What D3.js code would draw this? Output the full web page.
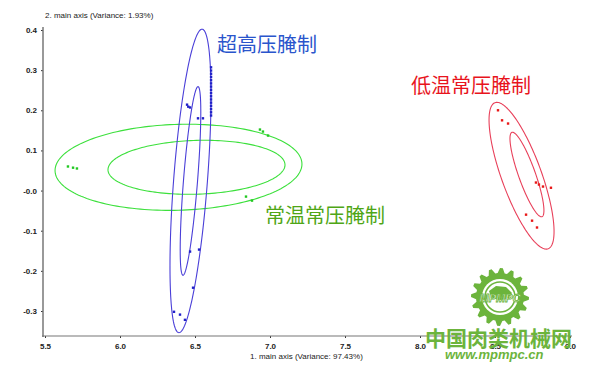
<!DOCTYPE html>
<html>
<head>
<meta charset="utf-8">
<script src="https://d3js.org/d3.v7.min.js"></script>
<style>
    body { margin: 0; background: #fff; }
    svg { display: block; }
    text { font-family: "Liberation Sans", Arial, sans-serif; }
    .cjk { font-family: "Noto Sans CJK SC", sans-serif; }
</style>
</head>
<body>
<script>
    var W = 600, H = 374;

    // tick values + labels
    var xTicks = [5.5, 6.0, 6.5, 7.0, 7.5, 8.0, 8.5, 9.0];
    var xTickLabels = ["5.5", "6.0", "6.5", "7.0", "7.5", "8.0", "8.5", "9.0"];
    var yTicks = [0.4, 0.3, 0.2, 0.1, 0, -0.1, -0.2, -0.3];
    var yTickLabels = ["0.4", "0.3", "0.2", "0.1", "-0.0", "-0.1", "-0.2", "-0.3"];

    var groups = ["超高压腌制", "常温常压腌制", "低温常压腌制"];

    // samples (1. main axis, 2. main axis)
    var bluePoints = [[6.447, 0.214], [6.467, 0.207], [6.455, 0.209], [6.52, 0.180], [6.553, 0.180],
        [6.607, 0.307], [6.607, 0.299], [6.607, 0.291], [6.607, 0.283], [6.607, 0.275],
        [6.607, 0.267], [6.607, 0.259], [6.607, 0.251], [6.607, 0.243], [6.607, 0.235],
        [6.607, 0.227], [6.607, 0.219], [6.607, 0.211], [6.607, 0.203], [6.607, 0.195], [6.607, 0.187],
        [6.36, -0.302], [6.40, -0.309], [6.433, -0.322], [6.487, -0.242], [6.527, -0.147], [6.467, -0.152]];
    var greenPoints = [[5.653, 0.060], [5.687, 0.057], [5.713, 0.055], [6.933, 0.152], [6.953, 0.147],
        [6.987, 0.137], [6.84, -0.015], [6.88, -0.025]];
    var redPoints = [[8.52, 0.200], [8.547, 0.175], [8.587, 0.167], [8.773, 0.020], [8.793, 0.015],
        [8.82, 0.010], [8.873, 0.007], [8.707, -0.060], [8.747, -0.075], [8.78, -0.092]];

    // confidence ellipses: centre, conjugate half-axis vectors (data units)
    var blueEllipses = [
        {c: [6.47, 0.024], u: [0.077, 0.378], w: [0.113, 0]},
        {c: [6.47, 0.024], u: [0.05, 0.235], w: [0.047, 0]}
    ];
    var greenEllipses = [
        {c: [6.39, 0.058], u: [0.823, 0.008], w: [0, 0.107]},
        {c: [6.51, 0.058], u: [0.59, 0.006], w: [0, 0.067]}
    ];
    var redEllipses = [
        {c: [8.677, 0.037], u: [0.177, -0.182], w: [0.125, 0.017]},
        {c: [8.713, 0.040], u: [0.1, -0.105], w: [0.053, 0.007]}
    ];

    var blueLine = "#4a3fd8", greenLine = "#3ce03c", redLine = "#e8405a";

    var svg = d3.select("body").append("svg")
        .attr("width", W)
        .attr("height", H);

    var x = d3.scaleLinear().domain([5.5, 9.0]).range([45, 570]);
    var y = d3.scaleLinear().domain([-0.3, 0.4]).range([311, 30]);

    // axes
    var yAxis = d3.axisLeft(y).tickValues(yTicks).tickSize(2).tickPadding(4)
        .tickFormat(function(d, i) { return yTickLabels[i]; });
    var xAxis = d3.axisBottom(x).tickValues(xTicks).tickSize(2).tickPadding(5)
        .tickFormat(function(d, i) { return xTickLabels[i]; });

    var gy = svg.append("g").attr("transform", "translate(43,0)").call(yAxis);
    var gx = svg.append("g").attr("transform", "translate(0,336)").call(xAxis);
    gy.select(".domain").remove();
    gx.select(".domain").remove();
    svg.append("line").attr("x1", 43).attr("x2", 43).attr("y1", 27).attr("y2", 337)
        .attr("stroke", "#777").attr("stroke-width", 1.5);
    svg.append("line").attr("x1", 42).attr("x2", 572).attr("y1", 336).attr("y2", 336)
        .attr("stroke", "#777").attr("stroke-width", 1.2);
    svg.selectAll(".tick line").attr("stroke", "#333");
    svg.selectAll(".tick text").attr("fill", "#222").style("font-size", "8px")
        .style("font-weight", "bold").style("font-family", "Liberation Sans, Arial, sans-serif");

    svg.append("text").attr("x", 45).attr("y", 18)
        .style("font-size", "8px").attr("fill", "#222")
        .text("2. main axis (Variance: 1.93%)");
    svg.append("text").attr("x", 250).attr("y", 359)
        .style("font-size", "8px").attr("fill", "#222")
        .text("1. main axis (Variance: 97.43%)");

    // ellipses
    var ts = d3.range(0, 2 * Math.PI, Math.PI / 90);
    var line = d3.line()
        .x(function(p) { return x(p[0]); })
        .y(function(p) { return y(p[1]); })
        .curve(d3.curveLinearClosed);

    function ellipsePts(e) {
        return ts.map(function(t) {
            return [e.c[0] + e.u[0] * Math.cos(t) + e.w[0] * Math.sin(t),
                    e.c[1] + e.u[1] * Math.cos(t) + e.w[1] * Math.sin(t)];
        });
    }

    function drawGroup(ells, pts, lineColor, ptColor) {
        svg.append("g").selectAll("path")
            .data(ells)
            .enter().append("path")
            .attr("d", function(e) { return line(ellipsePts(e)); })
            .attr("fill", "none")
            .attr("stroke", lineColor)
            .attr("stroke-width", 1.1);
        svg.append("g").selectAll("rect")
            .data(pts)
            .enter().append("rect")
            .attr("x", function(d) { return x(d[0]) - 1.2; })
            .attr("y", function(d) { return y(d[1]) - 1.2; })
            .attr("width", 2.4)
            .attr("height", 2.4)
            .attr("fill", ptColor);
    }

    drawGroup(greenEllipses, greenPoints, greenLine, "#22c822");
    drawGroup(blueEllipses, bluePoints, blueLine, "#2020c8");
    drawGroup(redEllipses, redPoints, redLine, "#e81818");

    // group labels
    svg.append("text").attr("class", "cjk").attr("x", 217).attr("y", 52)
        .style("font-size", "20px").attr("fill", "#2a55cc").text(groups[0]);
    svg.append("text").attr("class", "cjk").attr("x", 265).attr("y", 223)
        .style("font-size", "20px").attr("fill", "#4fa616").text(groups[1]);
    svg.append("text").attr("class", "cjk").attr("x", 411).attr("y", 93)
        .style("font-size", "20px").attr("fill", "#e8141c").text(groups[2]);

    // watermark
    var wm = "#6cb43c";
    var logo = svg.append("g").attr("transform", "translate(500,297)");
    var gearPts = d3.range(0, 64).map(function(i) {
        var a = i / 64 * 2 * Math.PI;
        var r = (Math.floor(i / 2) % 2 === 0) ? 29 : 24;
        return [r * Math.cos(a), r * Math.sin(a)];
    });
    logo.append("path").attr("d", d3.line().curve(d3.curveLinearClosed)(gearPts)).attr("fill", wm);
    logo.append("circle").attr("r", 18).attr("fill", "#fff");
    logo.append("circle").attr("r", 15).attr("fill", "none").attr("stroke", wm).attr("stroke-width", 1.5);
    logo.append("path").attr("d", "M-11,-6 L-4,-11 L6,-10 L12,-4 L8,2 L-2,3 L-9,0 Z").attr("fill", wm);
    logo.append("text").attr("x", 0).attr("y", 5).attr("text-anchor", "middle")
        .style("font-size", "11px").style("font-style", "italic").style("font-weight", "bold")
        .attr("fill", "#fff").attr("stroke", wm).attr("stroke-width", 0.8)
        .text("MPMPC");

    svg.append("text").attr("class", "cjk").attr("x", 425).attr("y", 346)
        .style("font-size", "21px").style("font-weight", "bold").attr("fill", wm)
        .text("中国肉类机械网");
    svg.append("text").attr("x", 445).attr("y", 359)
        .style("font-size", "13px").style("font-weight", "bold").style("font-style", "italic")
        .attr("fill", wm).text("www.mpmpc.cn");
</script>
</body>
</html>
